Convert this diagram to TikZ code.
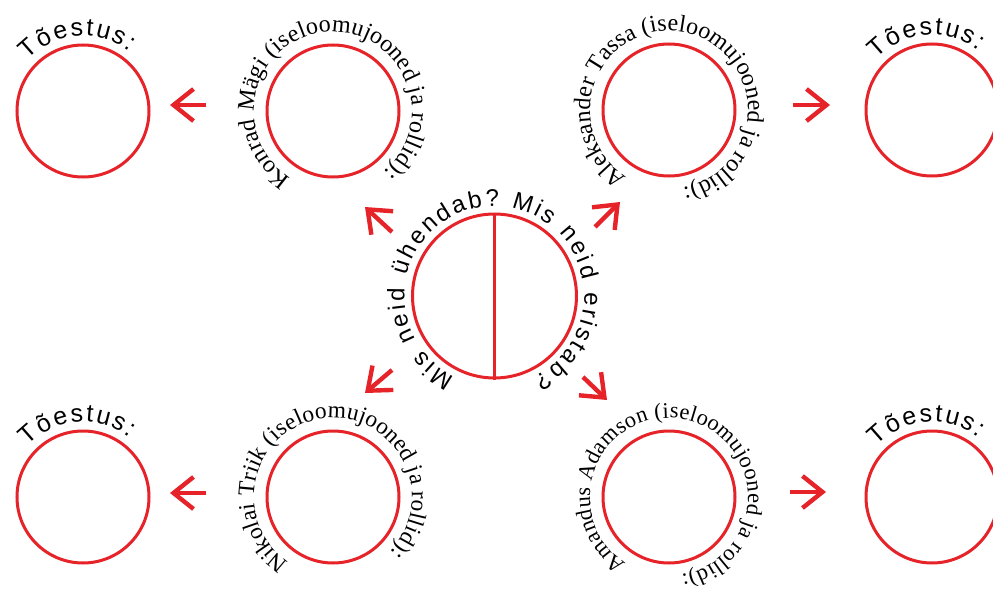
\documentclass[tikz,border=0pt]{standalone}
\usepackage{fontspec}
\usepackage{tikz}
\usetikzlibrary{arrows.meta,calc,decorations.text}
\newfontfamily\tserif{Liberation Serif}
\newfontfamily\tsans{Liberation Sans}
\definecolor{tred}{HTML}{E52329}

\begin{document}
\begin{tikzpicture}[x=0.5pt,y=0.5pt,
  ring/.style={circle,draw=tred,line width=1.5pt,minimum size=66pt,inner sep=0pt},
  bigring/.style={ring,minimum size=82pt},
  arr/.style={-{Straight Barb[length=10pt,width=16pt]},line width=2.2pt,tred},
  arctext/.style={decorate,decoration={text along path,text align=fit to path}}
]
\clip (0,0) rectangle (993,-594);
% middle circle
\node[bigring] (mid) at (494.5,-296) {};
\draw[tred,line width=1.5pt] (mid.north) -- (mid.south);
% persons
\node[ring] (konrad) at (333,-111) {};
\node[ring] (tassa) at (669,-110) {};
\node[ring] (triik) at (333,-497) {};
\node[ring] (adamson) at (669,-497) {};
% proofs
\node[ring] (prfA) at (83,-111) {};
\node[ring] (prfB) at (932,-110) {};
\node[ring] (prfC) at (83,-497) {};
\node[ring] (prfD) at (932,-497) {};
% texts round the circles
\path[arctext,decoration={text={|\tsans\fontsize{12}{14}\selectfont|Mis neid ühendab? Mis neid eristab?}}]
  ($(mid)+(244:90)$) arc[start angle=244,end angle=-64,radius=90];
\path[arctext,decoration={text={|\tserif\fontsize{12}{14}\selectfont|Konrad Mägi (iseloomujooned ja rollid):}}]
  ($(konrad)+(238:79)$) arc[start angle=238,end angle=-50,radius=79];
\path[arctext,decoration={text={|\tserif\fontsize{12}{14}\selectfont|Aleksander Tassa (iseloomujooned ja rollid):}}]
  ($(tassa)+(238:79)$) arc[start angle=238,end angle=-80,radius=79];
\path[arctext,decoration={text={|\tserif\fontsize{11.7}{14}\selectfont|Nikolai Triik (iseloomujooned ja rollid):}}]
  ($(triik)+(236:79)$) arc[start angle=236,end angle=-44,radius=79];
\path[arctext,decoration={text={|\tserif\fontsize{11.2}{14}\selectfont|Amandus Adamson (iseloomujooned ja rollid):}}]
  ($(adamson)+(237:79)$) arc[start angle=237,end angle=-81,radius=79];
\foreach \p in {prfA,prfB,prfC,prfD}{
  \path[arctext,decoration={text={|\tsans\fontsize{12.5}{14}\selectfont|Tõestus:}}]
    ($(\p)+(137:75)$) arc[start angle=137,end angle=52,radius=75];
}
% arrows
\draw[arr] ($(mid)+(-102.5,64)$) -- ($(mid)+(-129.5,89)$);
\draw[arr] ($(mid)+(100.5,69)$) -- ($(mid)+(125.5,94)$);
\draw[arr] ($(mid)+(-102.5,-74)$) -- ($(mid)+(-129.5,-97)$);
\draw[arr] ($(mid)+(88.5,-81)$) -- ($(mid)+(112.5,-104)$);
\draw[arr] ($(konrad)+(-127,6)$) -- ($(prfA)+(87,6)$);
\draw[arr] ($(tassa)+(124,5)$) -- ($(prfB)+(-102,5)$);
\draw[arr] ($(triik)+(-127,4)$) -- ($(prfC)+(87,4)$);
\draw[arr] ($(adamson)+(121,5)$) -- ($(prfD)+(-106,5)$);
\end{tikzpicture}
\end{document}
